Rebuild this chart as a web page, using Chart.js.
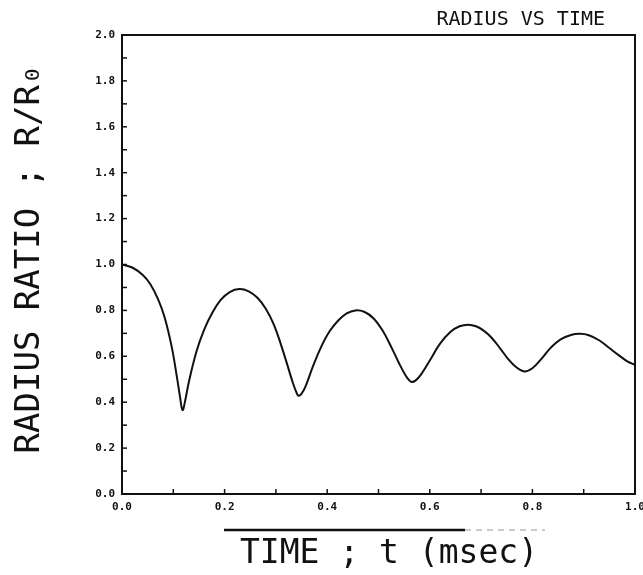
<!DOCTYPE html>
<html>
<head>
<meta charset="utf-8">
<script src="https://cdn.jsdelivr.net/npm/chart.js@4"></script>
<style>
    body { margin: 0; background: #fff; }
    #wrap { width: 643px; height: 575px; position: relative; }
</style>
</head>
<body>
<div id="wrap"><canvas id="radiusChart"></canvas></div>
<script>
// values
const timeMs = [
    0.000, 0.020, 0.040, 0.055, 0.070, 0.083, 0.097, 0.107, 0.113, 0.118,
    0.123, 0.130, 0.145, 0.160, 0.175, 0.192, 0.210, 0.229,
    0.247, 0.264, 0.280, 0.296, 0.310, 0.322, 0.333, 0.340, 0.344,
    0.350, 0.358, 0.372, 0.388, 0.405, 0.422, 0.438, 0.455,
    0.472, 0.490, 0.508, 0.525, 0.540, 0.552, 0.560, 0.565,
    0.572, 0.582, 0.600, 0.620, 0.640, 0.658, 0.675,
    0.690, 0.705, 0.720, 0.737, 0.752, 0.768, 0.784,
    0.800, 0.818, 0.836, 0.855, 0.875, 0.893,
    0.910, 0.930, 0.950, 0.970, 0.985, 1.000
];
const radiusRatio = [
    1.000, 0.987, 0.955, 0.915, 0.850, 0.770, 0.640, 0.510, 0.425, 0.366,
    0.405, 0.485, 0.620, 0.715, 0.785, 0.845, 0.880, 0.893,
    0.883, 0.855, 0.808, 0.738, 0.650, 0.565, 0.485, 0.443, 0.428,
    0.437, 0.470, 0.555, 0.640, 0.710, 0.757, 0.787, 0.800,
    0.794, 0.766, 0.712, 0.640, 0.570, 0.520, 0.495, 0.488,
    0.494, 0.518, 0.582, 0.655, 0.706, 0.731, 0.738,
    0.731, 0.712, 0.682, 0.635, 0.590, 0.553, 0.534,
    0.548, 0.590, 0.638, 0.674, 0.693, 0.698,
    0.692, 0.670, 0.636, 0.602, 0.578, 0.563
];

const chartTitle = "RADIUS VS TIME";
const xTitle = "TIME ; t (msec)";
const yTitle = "RADIUS RATIO ; R/R\u2080";

const ink = "#111";
const monoFont = "'DejaVu Sans Mono', 'Liberation Mono', monospace";

// frame, inward tick marks and the hand-lettered titles
const plotDecor = {
    id: "plotDecor",
    afterDraw(chart) {
        const { ctx, chartArea, scales } = chart;
        const { left, right, top, bottom } = chartArea;
        ctx.save();
        ctx.strokeStyle = ink;
        ctx.lineWidth = 2;
        ctx.strokeRect(left, top, right - left, bottom - top);

        ctx.lineWidth = 1.5;
        scales.y.ticks.forEach(t => {
            const y = scales.y.getPixelForValue(t.value);
            ctx.beginPath();
            ctx.moveTo(left, y);
            ctx.lineTo(left + 5, y);
            ctx.stroke();
        });
        scales.x.ticks.forEach(t => {
            const x = scales.x.getPixelForValue(t.value);
            ctx.beginPath();
            ctx.moveTo(x, bottom);
            ctx.lineTo(x, bottom - 5);
            ctx.stroke();
        });

        ctx.fillStyle = ink;
        ctx.textBaseline = "middle";

        ctx.font = "20px " + monoFont;
        ctx.textAlign = "right";
        ctx.fillText(chartTitle, 605, 20);

        ctx.font = "33px " + monoFont;
        ctx.textAlign = "center";
        ctx.fillText(xTitle, 389, 554);

        // overline above the x title
        ctx.lineWidth = 2.5;
        ctx.beginPath();
        ctx.moveTo(224, 530);
        ctx.lineTo(465, 530);
        ctx.stroke();
        ctx.lineWidth = 1;
        ctx.strokeStyle = "#999";
        ctx.setLineDash([6, 5]);
        ctx.beginPath();
        ctx.moveTo(465, 530);
        ctx.lineTo(545, 530);
        ctx.stroke();
        ctx.setLineDash([]);

        ctx.translate(30, 259);
        ctx.rotate(-Math.PI / 2);
        ctx.font = "34px " + monoFont;
        ctx.fillText(yTitle, 0, 0);
        ctx.restore();
    }
};

const tickLabel = (value, index) => index % 2 === 0 ? Number(value).toFixed(1) : "";

new Chart(document.getElementById("radiusChart"), {
    type: "line",
    data: {
        datasets: [{
            data: timeMs.map((t, i) => ({ x: t, y: radiusRatio[i] })),
            borderColor: ink,
            borderWidth: 2,
            pointRadius: 0,
            tension: 0.4,
            fill: false
        }]
    },
    options: {
        responsive: true,
        maintainAspectRatio: false,
        animation: false,
        layout: {
            padding: { top: 35, right: 8, bottom: 0, left: 0 }
        },
        plugins: {
            legend: { display: false },
            tooltip: { enabled: false }
        },
        scales: {
            x: {
                type: "linear",
                min: 0,
                max: 1,
                ticks: {
                    stepSize: 0.1,
                    autoSkip: false,
                    maxRotation: 0,
                    padding: 7,
                    color: ink,
                    font: { family: monoFont, size: 11, weight: "bold" },
                    callback: tickLabel
                },
                grid: { drawOnChartArea: false, drawTicks: false },
                border: { display: false },
                afterFit: s => {
                    s.height = 81;
                    s.paddingLeft = 0;
                    s.paddingRight = 0;
                }
            },
            y: {
                min: 0,
                max: 2,
                ticks: {
                    stepSize: 0.1,
                    autoSkip: false,
                    padding: 7,
                    color: ink,
                    font: { family: monoFont, size: 11, weight: "bold" },
                    callback: tickLabel
                },
                grid: { drawOnChartArea: false, drawTicks: false },
                border: { display: false },
                afterFit: s => {
                    s.width = 122;
                    s.paddingTop = 0;
                    s.paddingBottom = 0;
                }
            }
        }
    },
    plugins: [plotDecor]
});
</script>
</body>
</html>
